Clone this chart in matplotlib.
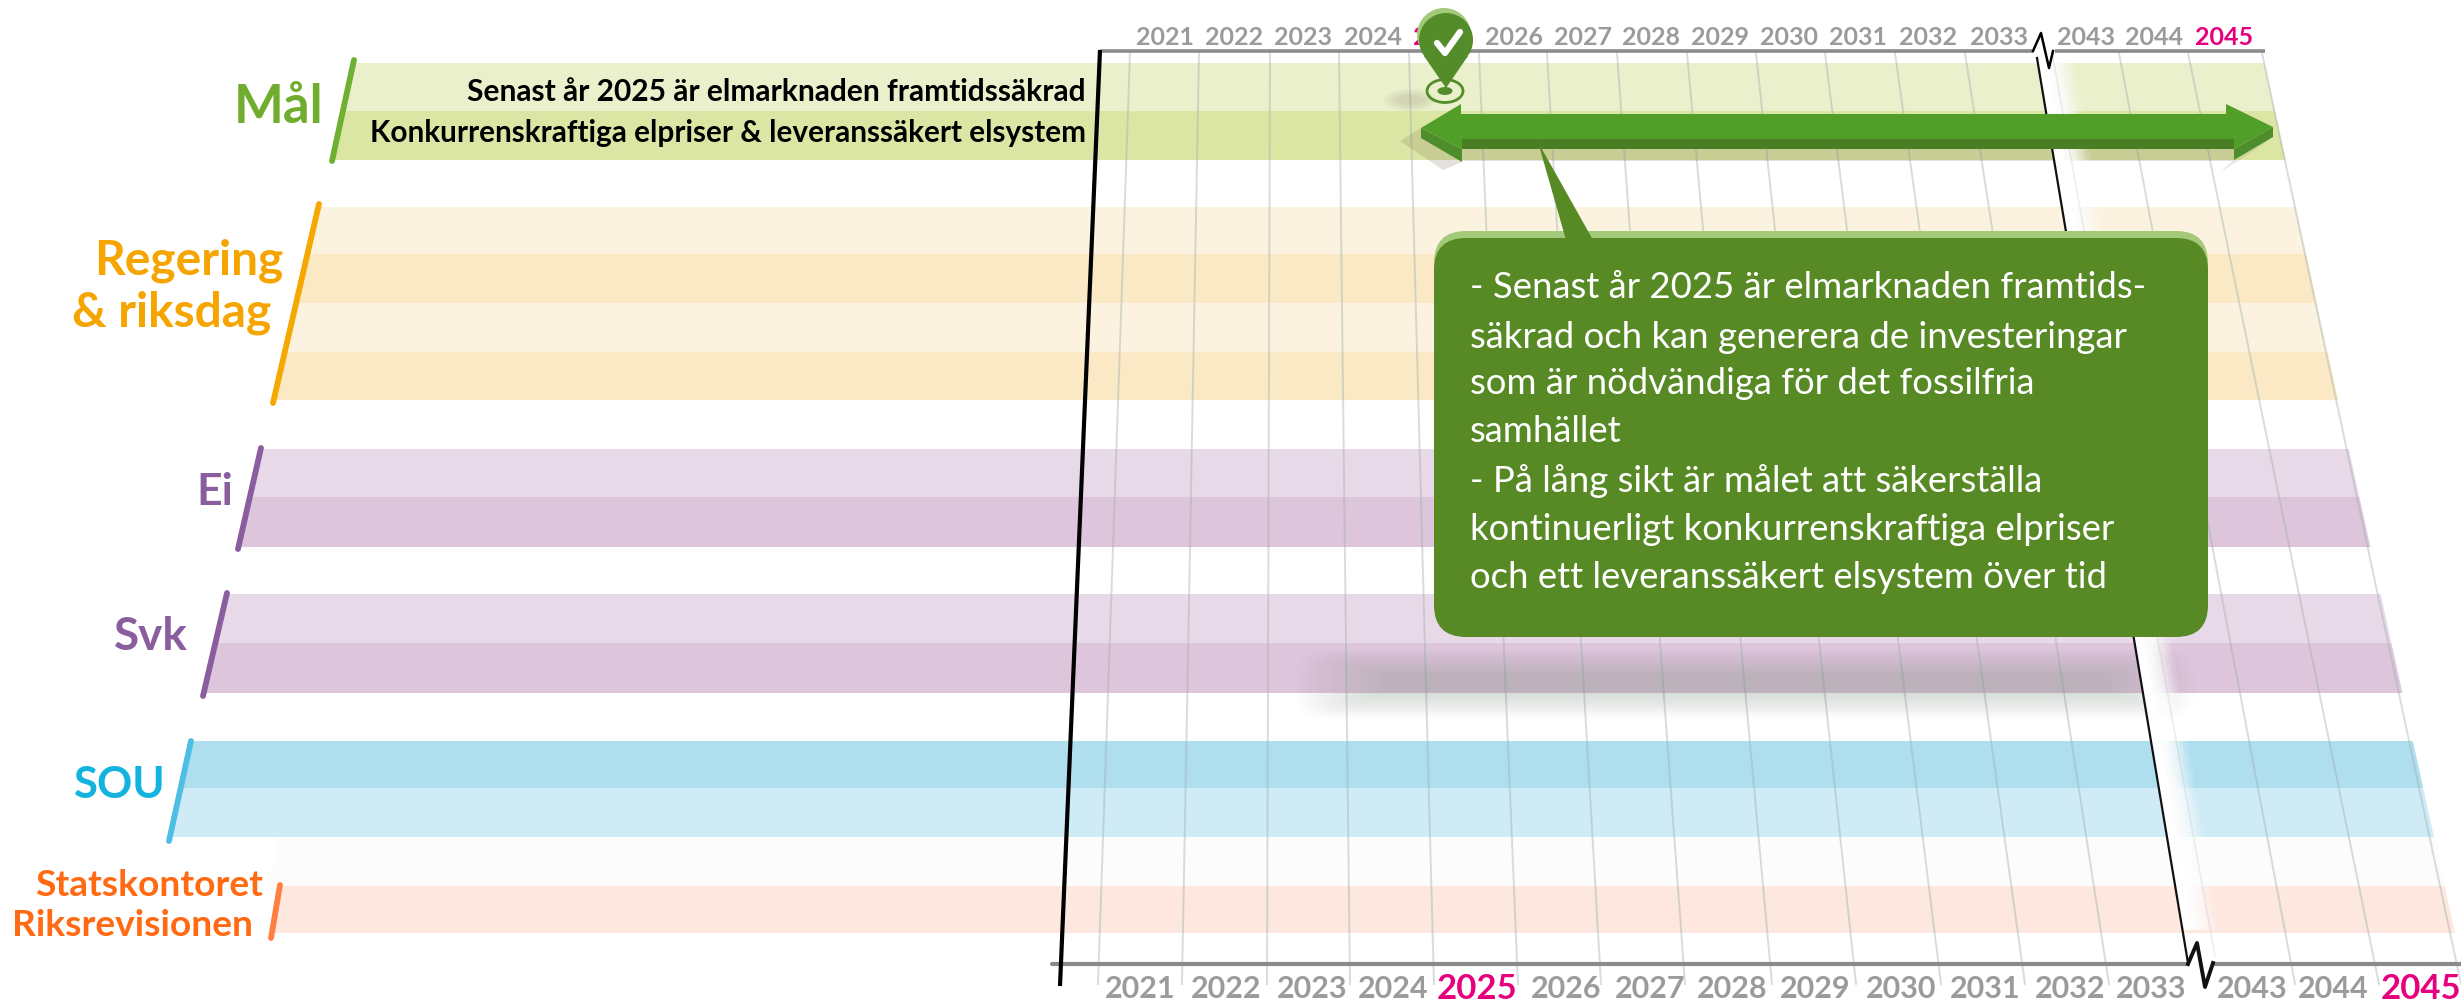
import numpy as np
import matplotlib
matplotlib.use("Agg")
import matplotlib.pyplot as plt
from matplotlib.patches import Circle, Ellipse, FancyBboxPatch, Polygon

plt.rcParams['font.family'] = ['Lato', 'DejaVu Sans']

# data
years = ["2021", "2022", "2023", "2024", "2025", "2026", "2027", "2028", "2029",
         "2030", "2031", "2032", "2033", "2043", "2044", "2045"]
highlight_years = ["2025", "2045"]
mal_lines = ["Senast år 2025 är elmarknaden framtidssäkrad",
             "Konkurrenskraftiga elpriser & leveranssäkert elsystem"]
callout_lines = ["- Senast år 2025 är elmarknaden framtids-",
                 "säkrad och kan generera de investeringar",
                 "som är nödvändiga för det fossilfria",
                 "samhället",
                 "- På lång sikt är målet att säkerställa",
                 "kontinuerligt konkurrenskraftiga elpriser",
                 "och ett leveranssäkert elsystem över tid"]
group_names = ["Mål", "Regering", "& riksdag", "Ei", "Svk", "SOU", "Statskontoret", "Riksrevisionen"]
group_colors = ["#70AD2F", "#F6A500", "#F6A500", "#8A5E9E", "#8A5E9E", "#12B3DE", "#FF6A13", "#FF6A13"]

# layout, in pixels of the 2461x1002 picture
label_right = [323, 283, 271, 233, 188, 165, 263, 253]
label_y = [107, 261, 313, 492, 637, 785, 885, 926]
label_size = [38, 34.5, 34.5, 32, 33, 31.5, 26.7, 26.7]

bands = [
    ((354, 60), (332, 161), "#6DB033", [63, 111, 160], ["#EAF0CC", "#DCE6A4"]),
    ((319, 204), (273, 403), "#F5A800", [207, 254, 303, 352, 400], ["#FBF3DF", "#FBE9C5", "#FBF3DF", "#FBE9C5"]),
    ((261, 448), (238, 549), "#8A5E9E", [449, 497, 547], ["#E8D9E8", "#DDC5DB"]),
    ((227, 593), (203, 696), "#8A5E9E", [594, 643, 693], ["#E8D9E8", "#DDC5DB"]),
    ((191, 741), (169, 841), "#4DBFE5", [741, 788, 837], ["#AFDEEE", "#CFEBF6"]),
    ((280, 885), (271, 938), "#FF7F41", [886, 933], ["#FDE7DF"]),
]

grid_top = [1130, 1199, 1270, 1339, 1409, 1479, 1547, 1617, 1687, 1756, 1825, 1895, 1965, 2119, 2188, 2262]
grid_bot = [1098, 1182, 1267, 1350, 1434, 1518, 1601, 1685, 1772, 1856, 1941, 2025, 2109, 2295, 2379, 2461]
top_x = [1165, 1234, 1303, 1373, 1442, 1514, 1583, 1651, 1720, 1789, 1858, 1928, 1999, 2086, 2154, 2224]
bot_x = [1140, 1226, 1312, 1393, 1477, 1566, 1650, 1732, 1815, 1901, 1985, 2070, 2151, 2252, 2333, 2421]
callout_y = [288, 337, 384, 432, 481, 529, 577]


def right_edge(y):
    return 2262 + 0.2193 * (y - 53)


def on_line(y, p0, p1):
    return p0[0] + (y - p0[1]) * (p1[0] - p0[0]) / (p1[1] - p0[1])


fig = plt.figure(figsize=(24.61, 10.02), dpi=100)
ax = fig.add_axes([0, 0, 1, 1])
ax.set_xlim(0, 2461)
ax.set_ylim(1002, 0)
ax.axis("off")

# bands
for p0, p1, bar_col, edges, cols in bands:
    for i in range(len(cols)):
        y0, y1 = edges[i], edges[i + 1]
        ax.fill([on_line(y0, p0, p1), right_edge(y0), right_edge(y1), on_line(y1, p0, p1)],
                [y0, y0, y1, y1], color=cols[i], lw=0, zorder=1)
    ax.plot([p0[0], p1[0]], [p0[1], p1[1]], color=bar_col, lw=4.2, solid_capstyle="round", zorder=3)
ax.fill([280, right_edge(838), right_edge(886), 268], [838, 838, 886, 886], color="#FCFCFC", lw=0, zorder=1)

# grid lines
for xt, xb in zip(grid_top, grid_bot):
    ax.plot([xt, xb], [53, 984], color="#9DB0AE", lw=1.4, alpha=0.42, zorder=2)

# shadow below the callout
for i in range(16):
    ax.add_patch(FancyBboxPatch((1295 + i * 6, 650 + i * 1.6), 900 - i * 12, 68 - i * 3.4,
                                boxstyle="round,pad=0,rounding_size=%d" % max(4, 30 - i * 2),
                                fc="#7A8A80", ec="none", alpha=0.02, zorder=2.2))
# shadow of the arrow
ax.fill([1462, 2234, 2234, 1462], [149, 149, 161, 161], color="#7A6A50", alpha=0.2, lw=0, zorder=2.2)
ax.fill([1400, 1421, 1462, 1462, 1443], [141, 128, 150, 162, 170], color="#7A6A50", alpha=0.2, lw=0, zorder=2.2)
ax.fill([2220, 2234, 2272, 2240], [172, 160, 138, 160], color="#7A6A50", alpha=0.15, lw=0, zorder=2.2)
# shadow of the pin
for w, h in zip([52, 44, 36, 28], [22, 18, 14, 10]):
    ax.add_patch(Ellipse((1410, 100), w, h, fc="#8A7A60", ec="none", alpha=0.06, zorder=2.2))

# white break strip right of the black line
for w, a in zip(range(10, 40, 3), [1.0, 0.6, 0.5, 0.4, 0.35, 0.3, 0.25, 0.2, 0.15, 0.1]):
    y0, y1 = 62, 930
    x0 = 2037 + 0.1669 * (y0 - 58)
    x1 = 2037 + 0.1669 * (y1 - 58)
    ax.fill([x0, x0 + w, x1 + w, x1], [y0, y0, y1, y1], color="white", alpha=a, lw=0, zorder=2.5)
# the one grid line seen through the strip
ax.plot([2052, 2215], [53, 956], color="#9DB0AE", lw=1.2, alpha=0.2, zorder=2.6)

# axes lines
axis_col = "#8C8A8C"
ax.plot([1100, 2033], [51, 51], color=axis_col, lw=2.6, zorder=4, solid_capstyle="butt")
ax.plot([2055, 2265], [51, 51], color=axis_col, lw=2.6, zorder=4, solid_capstyle="butt")
ax.plot([1052, 2188], [964, 964], color=axis_col, lw=3, zorder=4, solid_capstyle="round")
ax.plot([2214, 2461], [964, 964], color=axis_col, lw=3, zorder=4, solid_capstyle="butt")
ax.plot([1100, 1060], [50, 986], color="black", lw=3, zorder=4.5, solid_capstyle="butt")
ax.plot([2037, 2188], [58, 963], color="#111111", lw=1.6, zorder=4.5)
ax.plot([2033, 2041, 2049, 2053], [51, 33, 68, 51], color="black", lw=1.8, zorder=4.5)
ax.plot([2188, 2197, 2205, 2213], [964, 943, 987, 963], color="#111111", lw=2.8, zorder=4.5)

# year labels
for x, y in zip(top_x, years):
    col = "#E6007E" if y in highlight_years else "#9A9C9C"
    ax.text(x, 37, y, color=col, fontsize=18, fontweight="bold", ha="center", va="center", zorder=3)
for x, y in zip(bot_x, years):
    hl = y in highlight_years
    ax.text(x, 989, y, color="#E6007E" if hl else "#9A9C9C", fontsize=25 if hl else 22,
            fontweight="bold", ha="center", va="center", zorder=5)

# group labels
for name, col, xr, y, fs in zip(group_names, group_colors, label_right, label_y, label_size):
    ax.text(xr, y, name, color=col, fontsize=fs, fontweight="bold", ha="right", va="center", zorder=5)

# text in the Mål band
ax.text(1086, 92, mal_lines[0], color="black", fontsize=21.5, fontweight="bold", ha="right", va="center", zorder=5)
ax.text(1086, 133, mal_lines[1], color="black", fontsize=21.4, fontweight="bold", ha="right", va="center", zorder=5)

# double arrow
ax.add_patch(Polygon([(1462, 139), (2234, 139), (2234, 149), (1462, 149)], fc="#4A7E24", ec="none", zorder=6))
ax.add_patch(Polygon([(1421, 128), (1421, 138), (1462, 162), (1462, 149)], fc="#4E8D2B", ec="none", zorder=6))
ax.add_patch(Polygon([(2273, 127), (2273, 137), (2234, 160), (2234, 149)], fc="#4E8D2B", ec="none", zorder=6))
ax.add_patch(Polygon([(1421, 128), (1461, 104), (1461, 114), (2226, 114), (2226, 104), (2273, 127),
                      (2234, 149), (2234, 139), (1462, 139), (1462, 149)], fc="#519E29", ec="none", zorder=6.1))

# callout
ax.add_patch(Polygon([(1538, 142), (1566, 240), (1593, 240)], fc="#578A25", ec="none", zorder=6.4))
ax.add_patch(FancyBboxPatch((1434, 231), 774, 300, boxstyle="round,pad=0,rounding_size=32",
                            fc="#A3C97A", ec="none", zorder=6.2))
ax.add_patch(FancyBboxPatch((1434, 238), 774, 399, boxstyle="round,pad=0,rounding_size=32",
                            fc="#578A25", ec="none", zorder=6.3))
for line, y in zip(callout_lines, callout_y):
    ax.text(1470, y, line, color="white", fontsize=26.3, ha="left", va="center", zorder=7)

# pin
pin_dark = "#548C2A"
ax.add_patch(Circle((1444, 35), 27, fc="#A3C97A", ec="none", zorder=5.5))
ax.add_patch(Circle((1446, 40), 27, fc=pin_dark, ec="none", zorder=5.6))
ax.add_patch(Polygon([(1446, 88), (1424, 56), (1468, 56)], fc=pin_dark, ec="none", zorder=5.6))
ax.add_patch(Ellipse((1445, 91), 36, 23, fc="none", ec=pin_dark, lw=2, zorder=5.6))
ax.add_patch(Ellipse((1445, 91), 15, 8, fc=pin_dark, ec="none", zorder=5.6))
ax.plot([1437, 1445, 1460], [43, 53, 32], color="white", lw=4.5, solid_capstyle="round",
        solid_joinstyle="round", zorder=5.8)

fig.savefig("out.png", dpi=100)
